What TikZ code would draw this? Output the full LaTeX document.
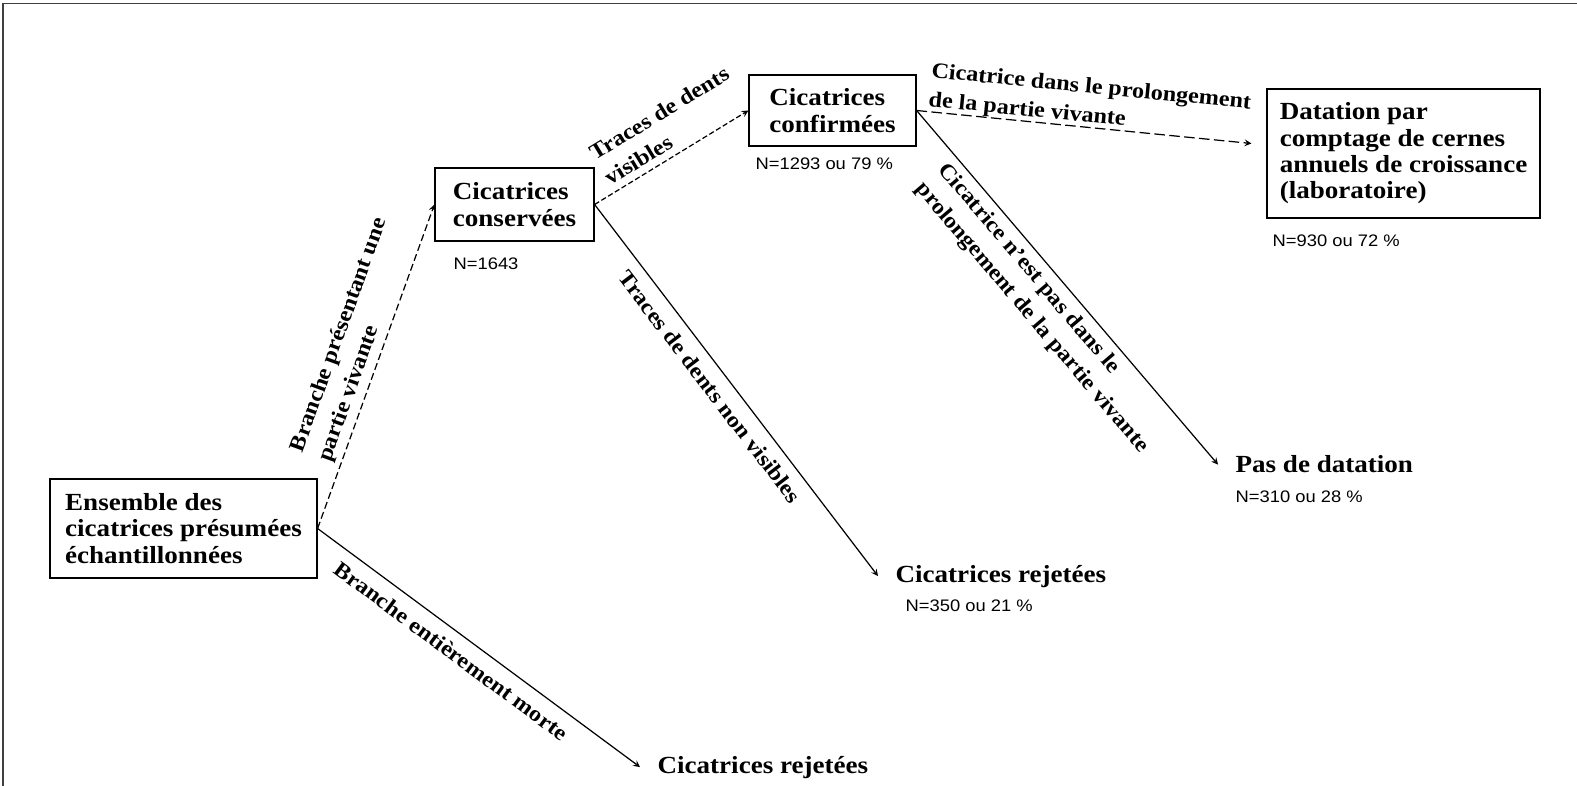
\documentclass[tikz,border=0pt]{standalone}
\usepackage{fontspec}
\setmainfont{Liberation Serif}[FakeStretch=1.1]
\newfontfamily\numfont{Liberation Sans}[FakeStretch=1.1]
\usetikzlibrary{positioning, arrows.meta}

\begin{document}
\begin{tikzpicture}[
    x=0.02cm, y=-0.02cm,
    ->,
    >=stealth,
    line width=0.7pt,
    boite/.style={draw, align=left, inner sep=0pt, font=\fontsize{14}{15}\selectfont\bfseries},
    fin/.style={anchor=base west, inner xsep=0.34cm, inner ysep=0pt, font=\fontsize{14}{15}\selectfont\bfseries},
    effectif/.style={anchor=base west, inner sep=0pt, font=\numfont\fontsize{9.5}{11}\selectfont},
    etiq/.style={sloped, align=left, font=\fontsize{12.5}{16.5}\selectfont\bfseries},
    vivant/.style={dash pattern=on 4pt off 2pt},
    visible/.style={dash pattern=on 3pt off 1.5pt},
    prolong/.style={dash pattern=on 6pt off 2.5pt}
  ]

  \useasboundingbox (0,0) rectangle (1577,786);
  \draw[-, line width=1pt, black!75] (3,786) -- (3,3.5) -- (1577,3.5);

  % boites
  \node[boite, minimum width=5.34cm, minimum height=1.98cm] (ens) at (183.5,528.5)
    {Ensemble des\\cicatrices présumées\\échantillonnées};
  \node[boite, minimum width=3.18cm, minimum height=1.46cm] (cons) at (514.5,204.5)
    {Cicatrices\\conservées};
  \node[boite, minimum width=3.34cm, minimum height=1.42cm] (conf) at (832.5,110.5)
    {Cicatrices\\confirmées};
  \node[boite, minimum width=5.46cm, minimum height=2.58cm] (dat) at (1403.5,153.5)
    {Datation par\\comptage de cernes\\annuels de croissance\\(laboratoire)};

  % issues sans boite
  \node[fin] (pas) at (1218,473) {Pas de datation};
  \node[fin] (rej1) at (878,582) {Cicatrices rejetées};
  \node[fin] (rej2) at (640,773) {Cicatrices rejetées};

  % effectifs
  \node[effectif] (ncons) at (453,270) {N=1643};
  \node[effectif] (nconf) at (755,170) {N=1293 ou 79 \%};
  \node[effectif] (ndat) at (1272,247) {N=930 ou 72 \%};
  \node[effectif] (npas) at (1235,502) {N=310 ou 28 \%};
  \node[effectif] (nrej) at (905,611) {N=350 ou 21 \%};

  % fleches
  \draw[vivant] (ens.east) -- (cons.west)
    node[etiq, above, pos=0.55, inner sep=3pt] {Branche présentant une\\partie vivante};
  \draw (ens.east) -- (rej2.west)
    node[etiq, below, pos=0.45, inner sep=6pt] {Branche entièrement morte};
  \draw[visible] (cons.east) -- (conf.west)
    node[etiq, above, pos=0.57, inner sep=4pt] {Traces de dents\\visibles};
  \draw (cons.east) -- (rej1.west)
    node[etiq, below, pos=0.46, inner sep=6pt] {Traces de dents non visibles};
  \draw[prolong] (conf.east) -- ([xshift=-0.3cm, yshift=0.2cm]dat.west)
    node[etiq, above, pos=0.51, inner sep=0pt] {Cicatrice dans le prolongement\\de la partie vivante};
  \draw (conf.east) -- (pas.west)
    node[etiq, below, pos=0.5, inner sep=4pt] {Cicatrice n'est pas dans le\\prolongement de la partie vivante};

\end{tikzpicture}
\end{document}
